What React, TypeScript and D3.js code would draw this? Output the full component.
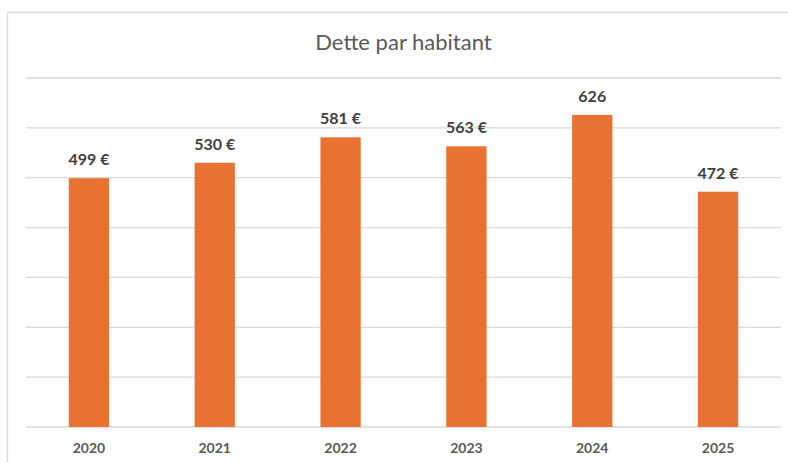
import React from 'react';
import * as d3 from 'd3';

const years = ['2020', '2021', '2022', '2023', '2024', '2025'];
const debt = [499, 530, 581, 563, 626, 472];
const labels = ['499 €', '530 €', '581 €', '563 €', '626', '472 €'];
const gridValues = [0, 100, 200, 300, 400, 500, 600, 700];

const width = 788;
const height = 462;
const margin = { top: 78, right: 7, bottom: 35, left: 26 };

export default function App() {
    const x = d3
        .scaleBand()
        .domain(years)
        .range([margin.left, width - margin.right])
        .paddingInner(0.68)
        .paddingOuter(0.34);
    const y = d3
        .scaleLinear()
        .domain([0, 700])
        .range([height - margin.bottom, margin.top]);

    const font = 'Lato, "Open Sans", sans-serif';

    return (
        <svg
            width={width}
            height={height}
            style={{ position: 'absolute', left: 0, top: 0, background: '#fff' }}>
            {/* chart frame: only top and left edges are visible */}
            <line x1={7.5} x2={width} y1={12.5} y2={12.5} stroke="#d9d9d9" strokeWidth={1.3} />
            <line x1={7.5} x2={7.5} y1={12.5} y2={height} stroke="#d9d9d9" strokeWidth={1.3} />
            <text
                x={(margin.left + width - margin.right) / 2}
                y={50}
                textAnchor="middle"
                fontFamily={font}
                fontSize={22}
                fill="#595959">
                Dette par habitant
            </text>
            {gridValues.map((v) => (
                <line
                    key={v}
                    x1={margin.left}
                    x2={width - margin.right}
                    y1={y(v)}
                    y2={y(v)}
                    stroke="#d9d9d9"
                    strokeWidth={1.3} />
            ))}
            {years.map((yr, i) => (
                <g key={yr}>
                    <rect
                        x={x(yr)}
                        y={y(debt[i])}
                        width={x.bandwidth()}
                        height={y(0) - y(debt[i])}
                        fill="#E97132" />
                    <text
                        x={(x(yr) || 0) + x.bandwidth() / 2}
                        y={y(debt[i]) - 13}
                        textAnchor="middle"
                        fontFamily={font}
                        fontWeight="bold"
                        fontSize={16}
                        fill="#404040">
                        {labels[i]}
                    </text>
                    <text
                        x={(x(yr) || 0) + x.bandwidth() / 2}
                        y={453}
                        textAnchor="middle"
                        fontFamily={font}
                        fontWeight="bold"
                        fontSize={14}
                        fill="#595959">
                        {yr}
                    </text>
                </g>
            ))}
        </svg>
    );
}
